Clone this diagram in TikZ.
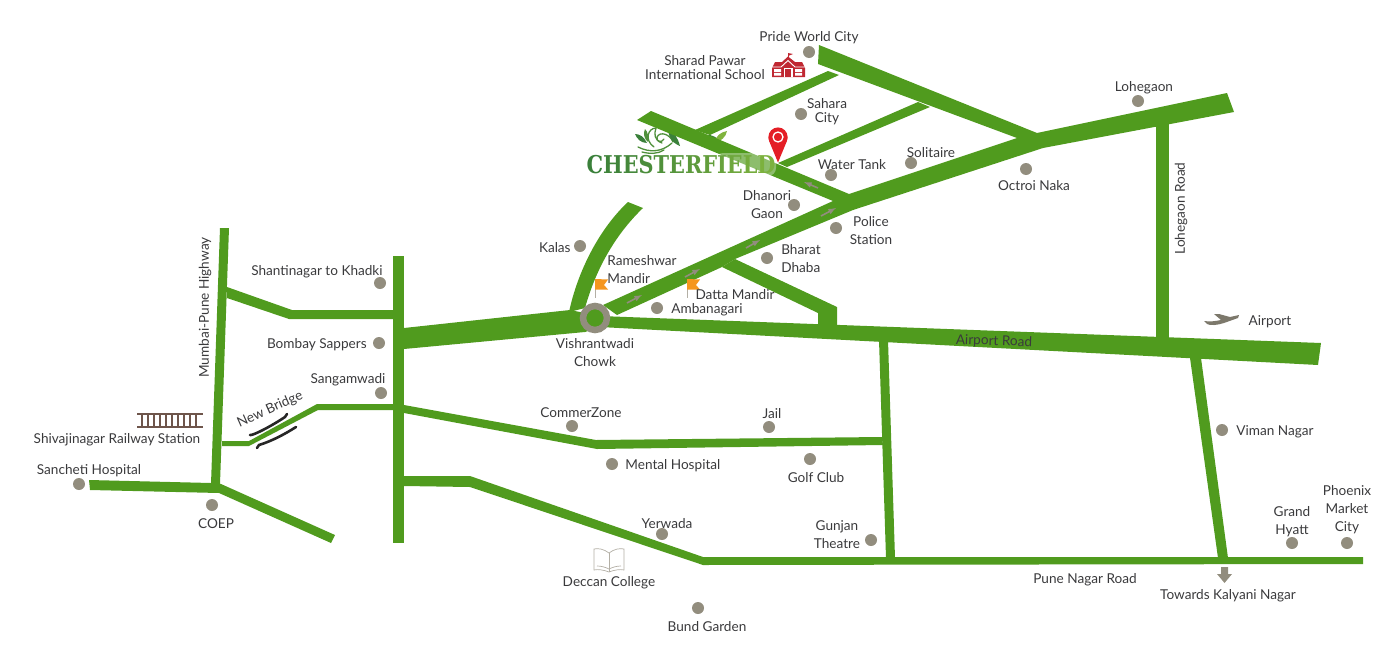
\documentclass[tikz,border=0pt]{standalone}
\usepackage{fontspec}
\usepackage{xcolor}
\setmainfont{Lato}
\newfontfamily\logofont{DejaVu Serif}
\usetikzlibrary{positioning}

\definecolor{roadgreen}{RGB}{80,155,30}
\definecolor{spotgrey}{RGB}{146,141,126}
\definecolor{inkgrey}{RGB}{58,58,60}
\definecolor{pinred}{RGB}{228,30,38}
\definecolor{schoolred}{RGB}{192,40,50}
\definecolor{flagorange}{RGB}{245,150,30}
\definecolor{trackbrown}{RGB}{110,85,75}
\definecolor{logodark}{RGB}{58,128,58}
\definecolor{logolight}{RGB}{128,180,62}

\begin{document}
\begin{tikzpicture}[x=1pt, y=-1pt]
    % Styles
    \tikzstyle{road} = [fill=roadgreen]
    \tikzstyle{spot} = [circle, fill=spotgrey, inner sep=0pt, minimum size=12pt]
    \tikzstyle{tag} = [inner sep=0pt, text=inkgrey, align=center, yshift=-1.5pt, font=\fontsize{13.6}{18}\selectfont]
    \tikzstyle{hint} = [draw=spotgrey, line width=1.6pt, -latex]
    \tikzstyle{bridge} = [draw=black!85, line width=2.6pt, line cap=round]
    \tikzstyle{flagpole} = [draw=spotgrey!70, line width=0.8pt]
    \tikzstyle{swirl} = [draw=logodark!70!logolight, line width=1.3pt, line cap=round]
    \tikzstyle{book} = [draw=spotgrey!70, line width=0.7pt, fill=white]

    \useasboundingbox (0,0) rectangle (1384,667);

    % --- LOGO ORNAMENT ---
    \draw [swirl] (638,147) .. controls (650,153) and (662,152) .. (672,143);
    \draw [swirl] (642,152) .. controls (650,154) and (658,154) .. (664,150);
    \draw [swirl] (654,147) .. controls (644,140) and (648,128) .. (656,128) .. controls (654,134) and (654,140) .. (662,143);
    \draw [swirl] (673,142) .. controls (670,134) and (660,131) .. (657,137) .. controls (656,142) and (662,143) .. (664,139);
    \fill [logodark] (635,134) .. controls (640,134) and (644,137) .. (647,143) .. controls (641,143) and (637,139) .. cycle;
    \fill [logodark!70!logolight] (645,129) .. controls (648,132) and (649,137) .. (648,142) .. controls (644,139) and (643,133) .. cycle;
    \fill [logodark] (668,128) .. controls (674,132) and (678,138) .. (680,146) .. controls (672,143) and (668,136) .. cycle;
    \fill [logodark] (706,135) .. controls (712,134) and (718,138) .. (722,143) .. controls (714,144) and (708,140) .. cycle;
    \fill [logolight] (727,131) .. controls (726,137) and (721,141) .. (715,143) .. controls (715,136) and (721,132) .. cycle;

    % --- ROADS NORTH ---
    \fill [road] (695,130) -- (828,71) -- (839,75) -- (710,135) -- cycle;
    \fill [road] (778,163) -- (918,102) -- (930,107) -- (787,167) -- cycle;
    \fill [road] (651,111) -- (849,194) -- (853,210) -- (833,201) -- (637,120) -- cycle;
    \fill [road] (819,45) -- (1037,133) -- (1043,148) -- (1017,138) -- (818,64) -- cycle;
    % main diagonal
    \fill [road] (603,305) -- (833,201) -- (849,194) -- (1017,138) -- (1037,133) -- (1227,93) -- (1234,112)
        -- (1043,148) -- (853,210) -- (735,259) -- (722,267) -- (617,315) -- cycle;
    % branch to airport road
    \fill [road] (735,259) -- (837,307) -- (837,325) -- (818,325) -- (818,313) -- (722,267) -- cycle;
    \fill [road] (569,312) .. controls (578,270) and (600,228) .. (628,202) -- (643,208)
        .. controls (618,232) and (597,265) .. (585,308) -- cycle;
    \fill [road] (1156,120) rectangle (1169,340);

    % --- ROADS EAST-WEST ---
    \fill [road] (404,328) -- (570,310) -- (600,316) -- (1321,343) -- (1318,365) -- (600,327) -- (585,332) -- (404,349) -- cycle;
    \fill [road] (404,405) -- (596,440) -- (882,437) -- (883,445) -- (597,449) -- (404,413) -- cycle;
    \fill [road] (404,476) -- (470,476) -- (703,557) -- (1363,557) -- (1363,564) -- (703,565) -- (470,487) -- (404,486) -- cycle;
    \fill [road] (879,340) -- (888,340) -- (895,558) -- (886,558) -- cycle;
    \fill [road] (1190,358) -- (1201,358) -- (1228,558) -- (1218,558) -- cycle;

    % --- ROADS WEST ---
    \fill [road] (393,256) rectangle (404,543);
    \fill [road] (220,228) -- (229,228) -- (220,484) -- (211,484) -- cycle;
    \fill [road] (227,287) -- (292,310) -- (393,310) -- (393,319) -- (289,319) -- (227,298) -- cycle;
    \fill [road] (393,404) -- (317,404) -- (249,441) -- (222,441) -- (222,446) -- (249,446) -- (318,410) -- (393,410) -- cycle;
    \fill [road] (89,480) -- (211,483) -- (221,484) -- (335,535) -- (331,543) -- (219,493) -- (90,490) -- cycle;

    % --- LOGO ---
    \fill [white, opacity=0.35, rounded corners=8pt] (715,153) rectangle (776,176);
    \node [inner sep=0pt] (logo) at (681,165) {\scalebox{0.85}[1]{\logofont\bfseries\fontsize{24.5}{25}\selectfont
        \foreach \ch/\mix in {C/100,H/92,E/84,S/76,T/68,E/60,R/50,F/42,I/34,E/26,L/16,D/6}{\textcolor{logodark!\mix!logolight}{\ch}}}};

    % --- PIN ---
    \fill [pinred] (778,162.5) -- (769.3,141.5) .. controls (764,128) and (792,128) .. (786.7,141.5) -- cycle;
    \fill [pinred] (778,137) circle (9.6);
    \draw [white, line width=1.3pt] (778,137) circle (5);

    % --- SCHOOL ICON ---
    \fill [schoolred] (772,68) -- (775,62) -- (782,62) -- (788,56.5) -- (795,62) -- (802,62) -- (805,68) -- (805,77) -- (772,77) -- cycle;
    \draw [schoolred, line width=0.8pt] (788,57) -- (788,53);
    \fill [schoolred] (788,53) -- (793,54) -- (788,56) -- cycle;
    \draw [white, line width=0.9pt] (772,67) -- (781,67) -- (788,60.5) -- (795,67) -- (805,67);
    \fill [white] (783.5,67.5) rectangle (792.5,77);
    \fill [schoolred] (785,69) rectangle (791,77);
    \fill [white] (774,69) rectangle (781,72) (774,73) rectangle (781,75.5) (795,69) rectangle (802,72) (795,73) rectangle (802,75.5);

    % --- JUNCTION ---
    \draw [spotgrey, line width=6.5pt, fill=roadgreen] (595,318) circle (12);

    % --- DIRECTION HINTS ---
    \draw [hint] (627,303) -- (642,295);
    \draw [hint] (685,277) -- (700,269);
    \draw [hint] (746,248) -- (760,240);
    \draw [hint] (821,216) -- (836,208);
    \draw [hint] (818,188) -- (804,182);

    % --- FLAGS ---
    \draw [flagpole] (595,279) -- (595,298);
    \fill [flagorange] (595,279) -- (608,279.5) -- (604,285) -- (608,289.5) -- (595,289.5) -- cycle;
    \draw [flagpole] (687,279) -- (687,298);
    \fill [flagorange] (687,279) -- (700,279.5) -- (696,285) -- (700,289.5) -- (687,289.5) -- cycle;

    % --- RAILWAY AND BRIDGE ---
    \draw [trackbrown, line width=1.2pt] (137,414) -- (203,414) (137,427) -- (203,427);
    \foreach \tx in {142,148,...,198} { \draw [trackbrown, line width=1.2pt] (\tx,414) -- (\tx,427); }
    \draw [bridge] (250,435) .. controls (252,436) and (270,427) .. (285,417) -- (287,414);
    \draw [bridge] (257,448) -- (259,445) .. controls (272,441) and (285,434) .. (296,427);

    % --- AIRPLANE ---
    \fill [spotgrey!85!black] (1204,321) .. controls (1210,322) and (1216,321) .. (1221,320) -- (1214,314) -- (1219,314)
        -- (1230,317) -- (1239,315) -- (1238,318) -- (1224,323) .. controls (1218,325) and (1210,326) .. (1207,324) -- cycle;

    % --- BOOK ---
    \draw [book] (609,553) .. controls (604,549) and (598,548) .. (594,549) -- (594,570) .. controls (598,569) and (604,570) .. (609,572)
        .. controls (614,570) and (620,569) .. (624,570) -- (624,549) .. controls (620,548) and (614,549) .. (609,553) -- cycle;
    \draw [book] (609,553) -- (609,572);
    \draw [book, fill=none] (597,566) .. controls (601,566) and (605,567) .. (609,569) .. controls (613,567) and (617,566) .. (621,566);

    % --- KALYANI ARROW ---
    \fill [spotgrey] (1221,567) -- (1228,567) -- (1228,574) -- (1232,574) -- (1224.5,583) -- (1217,574) -- (1221,574) -- cycle;

    % --- PLACES NORTH ---
    \node [spot] (pride) at (809,52) {};
    \node [tag, above=3pt of pride] (prideT) {Pride World City};
    \node [tag] (sharadT) at (705,66) {Sharad Pawar\\[-3.5pt]International School};
    \node [spot] (sahara) at (801,114) {};
    \node [tag] (saharaT) at (827,110) {Sahara\\[-3.5pt]City};
    \node [spot] (tank) at (831,175) {};
    \node [tag] (tankT) at (852,163) {Water Tank};
    \node [spot] (solitaire) at (911,163) {};
    \node [tag] (solitaireT) at (931,151) {Solitaire};
    \node [spot] (octroi) at (1026,169) {};
    \node [tag, below=4pt of octroi, xshift=8pt] (octroiT) {Octroi Naka};
    \node [spot] (lohegaon) at (1138,101) {};
    \node [tag] (lohegaonT) at (1144,86) {Lohegaon};
    \node [spot] (dhanori) at (794,205) {};
    \node [tag] (dhanoriT) at (767,203) {Dhanori\\Gaon};
    \node [spot] (police) at (836,228) {};
    \node [tag] (policeT) at (871,229) {Police\\Station};
    \node [spot] (bharat) at (767,258) {};
    \node [tag, align=left] (bharatT) at (801,257) {Bharat\\Dhaba};

    % --- PLACES CENTRE ---
    \node [spot] (kalas) at (580,246) {};
    \node [tag, left=3pt of kalas] (kalasT) {Kalas};
    \node [tag, align=left] (rameshT) at (642,268) {Rameshwar\\Mandir};
    \node [tag] (dattaT) at (735,293) {Datta Mandir};
    \node [spot] (amba) at (657,308) {};
    \node [tag, right=8pt of amba] (ambaT) {Ambanagari};
    \node [tag] (vishrantT) at (595,351) {Vishrantwadi\\Chowk};
    \node [tag, rotate=-2] (airroadT) at (994,340) {Airport Road};
    \node [tag] (airportT) at (1270,320) {Airport};
    \node [spot] (commer) at (572,426) {};
    \node [tag] (commerT) at (581,411) {CommerZone};
    \node [spot] (jail) at (769,427) {};
    \node [tag] (jailT) at (772,412) {Jail};
    \node [spot] (mental) at (612,464) {};
    \node [tag, right=7pt of mental] (mentalT) {Mental Hospital};
    \node [spot] (golf) at (810,459) {};
    \node [tag] (golfT) at (816,476) {Golf Club};
    \node [spot] (yerwada) at (662,534) {};
    \node [tag] (yerwadaT) at (667,522) {Yerwada};
    \node [spot] (gunjan) at (871,540) {};
    \node [tag] (gunjanT) at (837,533) {Gunjan\\Theatre};
    \node [tag] (deccanT) at (609,581) {Deccan College};
    \node [spot] (bund) at (698,608) {};
    \node [tag] (bundT) at (707,625) {Bund Garden};

    % --- PLACES EAST ---
    \node [tag] (puneT) at (1085,578) {Pune Nagar Road};
    \node [tag] (towardsT) at (1228,594) {Towards Kalyani Nagar};
    \node [spot] (viman) at (1222,430) {};
    \node [tag, right=8pt of viman] (vimanT) {Viman Nagar};
    \node [spot] (hyatt) at (1292,543) {};
    \node [tag] (hyattT) at (1292,520) {Grand\\Hyatt};
    \node [spot] (phoenix) at (1347,543) {};
    \node [tag] (phoenixT) at (1347,508) {Phoenix\\Market\\City};
    \node [tag, rotate=90] (lohroadT) at (1181,207) {Lohegaon Road};

    % --- PLACES WEST ---
    \node [spot] (shanti) at (380,283) {};
    \node [tag] (shantiT) at (317,270) {Shantinagar to Khadki};
    \node [spot] (sappers) at (379,343) {};
    \node [tag, left=6pt of sappers] (sappersT) {Bombay Sappers};
    \node [spot] (sangam) at (381,393) {};
    \node [tag] (sangamT) at (348,378) {Sangamwadi};
    \node [tag, rotate=24] (bridgeT) at (270,408) {New Bridge};
    \node [tag, rotate=90] (highwayT) at (205,306) {Mumbai-Pune Highway};
    \node [tag] (shivaT) at (117,438) {Shivajinagar Railway Station};
    \node [spot] (sancheti) at (79,484) {};
    \node [tag] (sanchetiT) at (89,469) {Sancheti Hospital};
    \node [spot] (coep) at (212,505) {};
    \node [tag] (coepT) at (216,522) {COEP};
\end{tikzpicture}
\end{document}
